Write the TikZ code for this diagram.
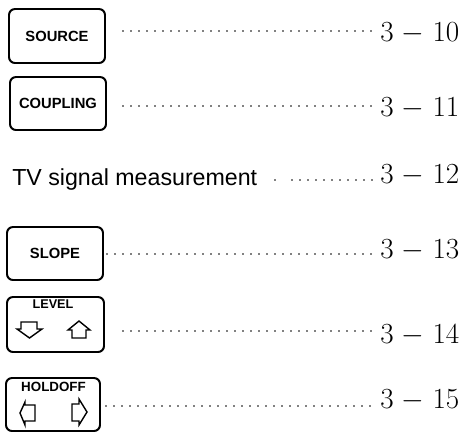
\documentclass[tikz,border=0pt]{standalone}
\usepackage{fontspec}
\newfontfamily\keyfont{Liberation Sans}
\begin{document}
\begin{tikzpicture}[x=0.25mm,y=-0.25mm,
        key/.style={draw,line width=1.4pt,rounded corners=1.5mm,minimum width=24mm,minimum height=13.5mm,inner sep=0pt,font=\keyfont\bfseries\fontsize{10.5}{12}\selectfont},
        keyname/.style={inner sep=0pt,font=\keyfont\bfseries\fontsize{9.5}{11}\selectfont},
        pagenum/.style={anchor=base west,inner sep=0pt,font=\fontsize{20}{24}\selectfont},
        leader/.style={line width=1.4pt,line cap=round,dash pattern=on 0pt off 2mm,shorten >=1.25mm},
        hollow/.style={line width=1pt}]
        \useasboundingbox (0,0) rectangle (461,432);
        \node[key] (source) at (57,36) {SOURCE};
        \node[key,minimum height=13.25mm] (coupling) at (58,103.5) {COUPLING};
        \node[anchor=base west,inner sep=0pt,font=\keyfont\fontsize{16.5}{19}\selectfont] (tv) at (12,185) {TV signal measurement};
        \node[key,minimum height=13.25mm] (slope) at (55,253.5) {SLOPE};
        \node[key,minimum width=24.25mm,minimum height=13.75mm] (level) at (55.5,324.5) {};
        \node[keyname,font=\keyfont\bfseries\fontsize{9}{10}\selectfont] (levelname) at (53,304.5) {LEVEL};
        \node[key,minimum width=23.5mm,minimum height=13.25mm] (holdoff) at (53,404.5) {};
        \node[keyname] (holdoffname) at (53.5,387) {HOLDOFF};
        \draw[hollow] (21,322) -- (37,322) -- (37,329) -- (42,329) -- (29.5,338) -- (17,329) -- (21,329) -- cycle;
        \draw[hollow] (72,338) -- (72,330) -- (68,330) -- (79,321) -- (90,330) -- (86,330) -- (86,338) -- cycle;
        \draw[hollow] (35,405) -- (25,405) -- (25,402) -- (20,413) -- (25,425) -- (25,421) -- (35,421) -- cycle;
        \draw[hollow] (72,404) -- (79,404) -- (79,399) -- (87,412) -- (79,425) -- (79,421) -- (72,421) -- cycle;
        \node[pagenum] (p1) at (380,41) {$3\mskip1mu-\mskip1mu10$};
        \node[pagenum] (p2) at (380,116) {$3\mskip1mu-\mskip1mu11$};
        \node[pagenum] (p3) at (380,183) {$3\mskip1mu-\mskip1mu12$};
        \node[pagenum] (p4) at (380,258) {$3\mskip1mu-\mskip1mu13$};
        \node[pagenum] (p5) at (380,343) {$3\mskip1mu-\mskip1mu14$};
        \node[pagenum] (p6) at (380,408) {$3\mskip1mu-\mskip1mu15$};
        \coordinate (l1) at (123,31);
        \coordinate (l2) at (123,106);
        \coordinate (d3) at (275,180);
        \coordinate (l3) at (292,180);
        \coordinate (l4) at (107,254);
        \coordinate (l5) at (123,331);
        \coordinate (l6) at (106,406);
        \draw[leader] (l1) -- (l1 -| p1.west);
        \draw[leader] (l2) -- (l2 -| p2.west);
        \fill (d3) circle [radius=0.7pt];
        \draw[leader] (l3) -- (l3 -| p3.west);
        \draw[leader] (l4) -- (l4 -| p4.west);
        \draw[leader] (l5) -- (l5 -| p5.west);
        \draw[leader] (l6) -- (l6 -| p6.west);
\end{tikzpicture}
\end{document}
